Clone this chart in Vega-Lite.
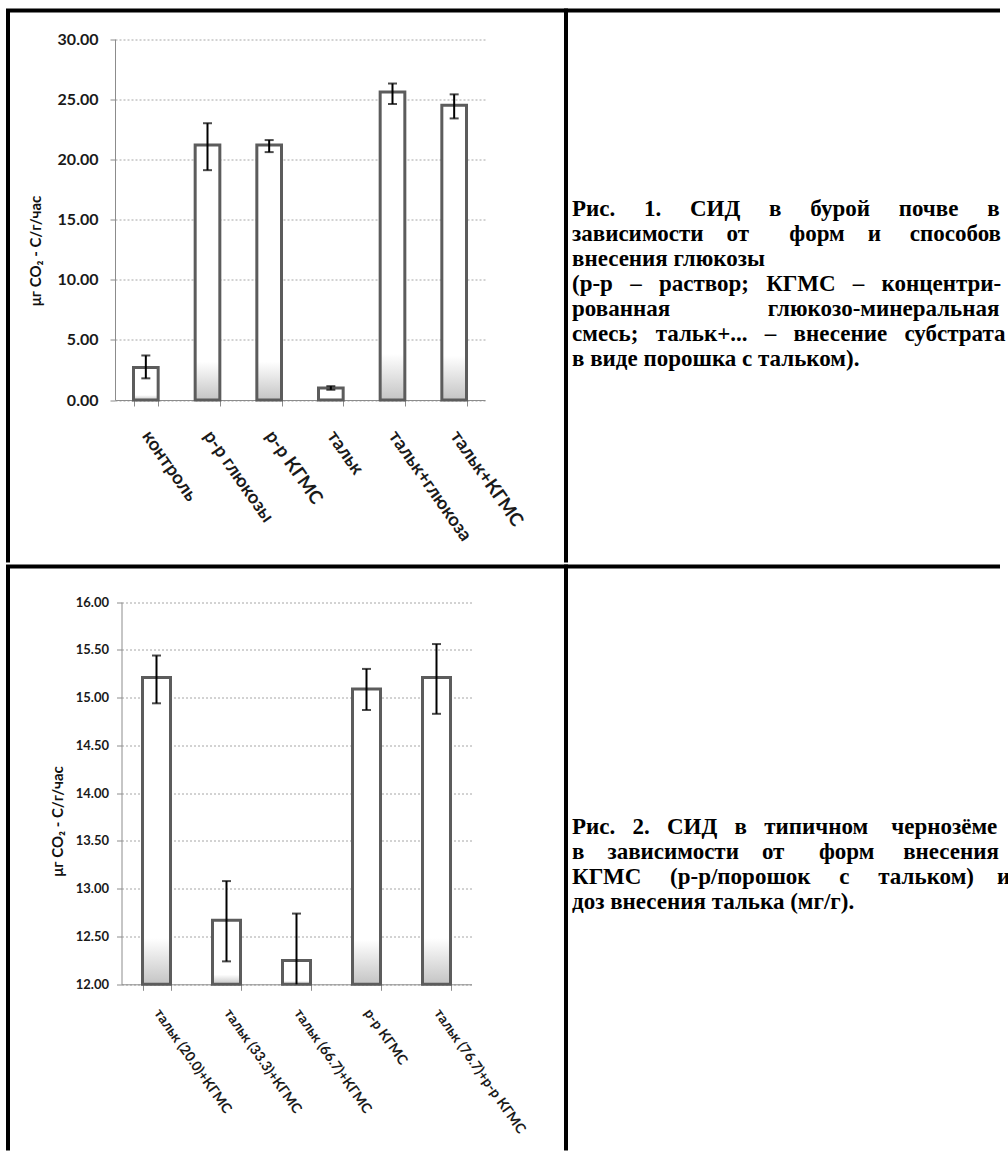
{
  "$schema": "https://vega.github.io/schema/vega-lite/v6.json",
  "background": "white",
  "padding": {"left": -3, "top": 7.5, "right": 0, "bottom": 0},
  "config": {"view": {"stroke": null}, "font": "Lato"},
  "spacing": 0,
  "vconcat": [
    {
      "spacing": 0,
      "bounds": "flush",
      "hconcat": [
        {
          "width": 558,
          "height": 550,
          "view": {"stroke": "black", "strokeWidth": 4, "strokeCap": "square", "strokeDash": [558, 1108, 550, 0], "fill": "white"},
          "data": {"values": [
            {"cat": "контроль", "value": 2.7, "lo": 1.8, "hi": 3.7},
            {"cat": "р-р глюкозы", "value": 21.2, "lo": 19.1, "hi": 23.0},
            {"cat": "р-р КГМС", "value": 21.2, "lo": 20.6, "hi": 21.6},
            {"cat": "тальк", "value": 1.0, "lo": 0.85, "hi": 1.15},
            {"cat": "тальк+глюкоза", "value": 25.6, "lo": 24.6, "hi": 26.3},
            {"cat": "тальк+КГМС", "value": 24.5, "lo": 23.4, "hi": 25.4}
          ]},
          "encoding": {
            "x": {
              "field": "cat", "type": "nominal", "sort": null,
              "scale": {"type": "band", "range": [107, 477], "paddingInner": 0.6, "paddingOuter": 0.3},
              "axis": {"title": null, "offset": -160.5, "labelAngle": 55, "labelAlign": "left", "labelBaseline": "middle", "tickBand": "extent", "tickSize": 6, "tickColor": "#8c8c8c", "domainColor": "#8c8c8c", "labelFont": "Lato", "labelFontWeight": "bold", "labelFontSize": 18.5, "labelPadding": 26, "labelColor": "#1a1a1a", "grid": false}
            }
          },
          "layer": [
            {
              "mark": {"type": "bar", "stroke": "#5c5c5c", "strokeWidth": 3, "fill": {"gradient": "linear", "x1": 0, "y1": 0, "x2": 0, "y2": 1, "stops": [{"offset": 0, "color": "#ffffff"}, {"offset": 0.85, "color": "#ffffff"}, {"offset": 1, "color": "#c4c4c4"}]}},
              "encoding": {
                "y": {
                  "field": "value", "type": "quantitative", "title": "μг CO₂ - C/г/час",
                  "scale": {"domain": [0, 30], "range": [389.5, 28.5], "nice": false},
                  "axis": {"offset": -107, "values": [0, 5, 10, 15, 20, 25, 30], "format": ".2f", "grid": true, "gridColor": "#a6a6a6", "gridDash": [2, 2], "gridWidth": 1, "domainColor": "#8c8c8c", "tickColor": "#8c8c8c", "tickSize": 5, "labelFont": "Lato", "labelFontWeight": "bold", "labelFontSize": 16, "labelColor": "#1a1a1a", "labelPadding": 12, "titleFont": "Lato", "titleFontSize": 15, "titleFontWeight": "bold", "titleColor": "#111111", "titlePadding": 14, "titleY": 240}
                }
              }
            },
            {
              "mark": {"type": "rule", "color": "black", "strokeWidth": 2},
              "encoding": {"y": {"field": "lo", "type": "quantitative", "title": "μг CO₂ - C/г/час"}, "y2": {"field": "hi"}}
            },
            {
              "mark": {"type": "tick", "color": "black", "thickness": 2, "size": 9},
              "encoding": {"y": {"field": "hi", "type": "quantitative", "title": "μг CO₂ - C/г/час"}}
            },
            {
              "mark": {"type": "tick", "color": "black", "thickness": 2, "size": 9},
              "encoding": {"y": {"field": "lo", "type": "quantitative", "title": "μг CO₂ - C/г/час"}}
            }
          ]
        },
        {
          "width": 432,
          "height": 550,
          "view": {"stroke": "black", "strokeWidth": 4, "strokeCap": "square", "strokeDash": [432, 982, 550, 0], "fill": "white"},
          "data": {"values": [
            {"line": 1, "text": "Рис.\u2003 1.\u2003 СИД\u2003 в\u2003 бурой\u2003 почве\u2003 в"},
            {"line": 2, "text": "зависимости\u2003от\u2003\u2002 форм\u2003и\u2003 способов"},
            {"line": 3, "text": "внесения глюкозы"},
            {"line": 4, "text": "(р-р\u2002 –\u2002 раствор;\u2002 КГМС\u2002 –\u2002 концентри-"},
            {"line": 5, "text": "рованная\u2003\u2003\u2003\u2003 глюкозо-минеральная"},
            {"line": 6, "text": "смесь;\u2002 тальк+...\u2002 –\u2002 внесение\u2002 субстрата"},
            {"line": 7, "text": "в виде порошка с тальком)."}
          ]},
          "mark": {"type": "text", "align": "left", "baseline": "alphabetic", "font": "Liberation Serif", "fontWeight": "bold", "fontSize": 23, "color": "black"},
          "encoding": {
            "x": {"value": 6},
            "y": {"field": "line", "type": "ordinal", "scale": {"type": "point", "range": [205.5, 355.5], "padding": 0}, "axis": null},
            "text": {"field": "text"}
          }
        }
      ]
    },
    {
      "spacing": 0,
      "bounds": "flush",
      "hconcat": [
        {
          "width": 558,
          "height": 582,
          "view": {"stroke": "black", "strokeWidth": 4, "strokeCap": "square", "strokeDash": [558, 1140, 582, 0], "fill": "white"},
          "data": {"values": [
            {"cat": "тальк (20.0)+КГМС", "value": 15.21, "lo": 14.94, "hi": 15.44},
            {"cat": "тальк (33.3)+КГМС", "value": 12.67, "lo": 12.24, "hi": 13.08},
            {"cat": "тальк (66.7)+КГМС", "value": 12.25, "lo": 11.76, "hi": 12.74},
            {"cat": "р-р КГМС", "value": 15.09, "lo": 14.87, "hi": 15.3},
            {"cat": "тальк (76.7)+р-р КГМС", "value": 15.21, "lo": 14.83, "hi": 15.56}
          ]},
          "encoding": {
            "x": {
              "field": "cat", "type": "nominal", "sort": null,
              "scale": {"type": "band", "range": [113.5, 463.5], "paddingInner": 0.6, "paddingOuter": 0.3},
              "axis": {"title": null, "offset": -164.2, "labelAngle": 55, "labelAlign": "left", "labelBaseline": "middle", "tickBand": "extent", "tickSize": 6, "tickColor": "#8c8c8c", "domainColor": "#8c8c8c", "labelFont": "Lato", "labelFontWeight": "bold", "labelFontSize": 14, "labelPadding": 20, "labelColor": "#1a1a1a", "grid": false}
            }
          },
          "layer": [
            {
              "mark": {"type": "bar", "stroke": "#5c5c5c", "strokeWidth": 3, "fill": {"gradient": "linear", "x1": 0, "y1": 0, "x2": 0, "y2": 1, "stops": [{"offset": 0, "color": "#ffffff"}, {"offset": 0.85, "color": "#ffffff"}, {"offset": 1, "color": "#c4c4c4"}]}},
              "encoding": {
                "y": {
                  "field": "value", "type": "quantitative", "title": "μг CO₂ - C/г/час",
                  "scale": {"domain": [12, 16], "range": [417.8, 35.5], "nice": false, "zero": false, "clamp": true},
                  "axis": {"offset": -113.5, "values": [12, 12.5, 13, 13.5, 14, 14.5, 15, 15.5, 16], "format": ".2f", "grid": true, "gridColor": "#a6a6a6", "gridDash": [2, 2], "gridWidth": 1, "domainColor": "#8c8c8c", "tickColor": "#8c8c8c", "tickSize": 5, "labelFont": "Lato", "labelFontWeight": "bold", "labelFontSize": 13, "labelColor": "#1a1a1a", "labelPadding": 8, "titleFont": "Lato", "titleFontSize": 15, "titleFontWeight": "bold", "titleColor": "#111111", "titlePadding": 10, "titleY": 254.5}
                },
                "y2": {"datum": 12}
              }
            },
            {
              "mark": {"type": "rule", "color": "black", "strokeWidth": 2},
              "encoding": {"y": {"field": "lo", "type": "quantitative", "title": "μг CO₂ - C/г/час"}, "y2": {"field": "hi"}}
            },
            {
              "mark": {"type": "tick", "color": "black", "thickness": 2, "size": 9},
              "encoding": {"y": {"field": "hi", "type": "quantitative", "title": "μг CO₂ - C/г/час"}}
            },
            {
              "transform": [{"filter": "datum.lo >= 12"}],
              "mark": {"type": "tick", "color": "black", "thickness": 2, "size": 9},
              "encoding": {"y": {"field": "lo", "type": "quantitative", "title": "μг CO₂ - C/г/час"}}
            }
          ]
        },
        {
          "width": 432,
          "height": 582,
          "view": {"stroke": "black", "strokeWidth": 4, "strokeCap": "square", "strokeDash": [432, 1014, 582, 0], "fill": "white"},
          "data": {"values": [
            {"line": 1, "text": "Рис.\u2002 2.\u2002 СИД\u2002 в\u2002 типичном\u2003чернозёме"},
            {"line": 2, "text": "в\u2003зависимости\u2003от\u2003\u2002форм\u2003 внесения"},
            {"line": 3, "text": "КГМС\u2003 (р-р/порошок\u2003 с\u2003 тальком)\u2003и"},
            {"line": 4, "text": "доз внесения талька (мг/г)."}
          ]},
          "mark": {"type": "text", "align": "left", "baseline": "alphabetic", "font": "Liberation Serif", "fontWeight": "bold", "fontSize": 23, "color": "black"},
          "encoding": {
            "x": {"value": 6},
            "y": {"field": "line", "type": "ordinal", "scale": {"type": "point", "range": [267.5, 342.5], "padding": 0}, "axis": null},
            "text": {"field": "text"}
          }
        }
      ]
    }
  ]
}
